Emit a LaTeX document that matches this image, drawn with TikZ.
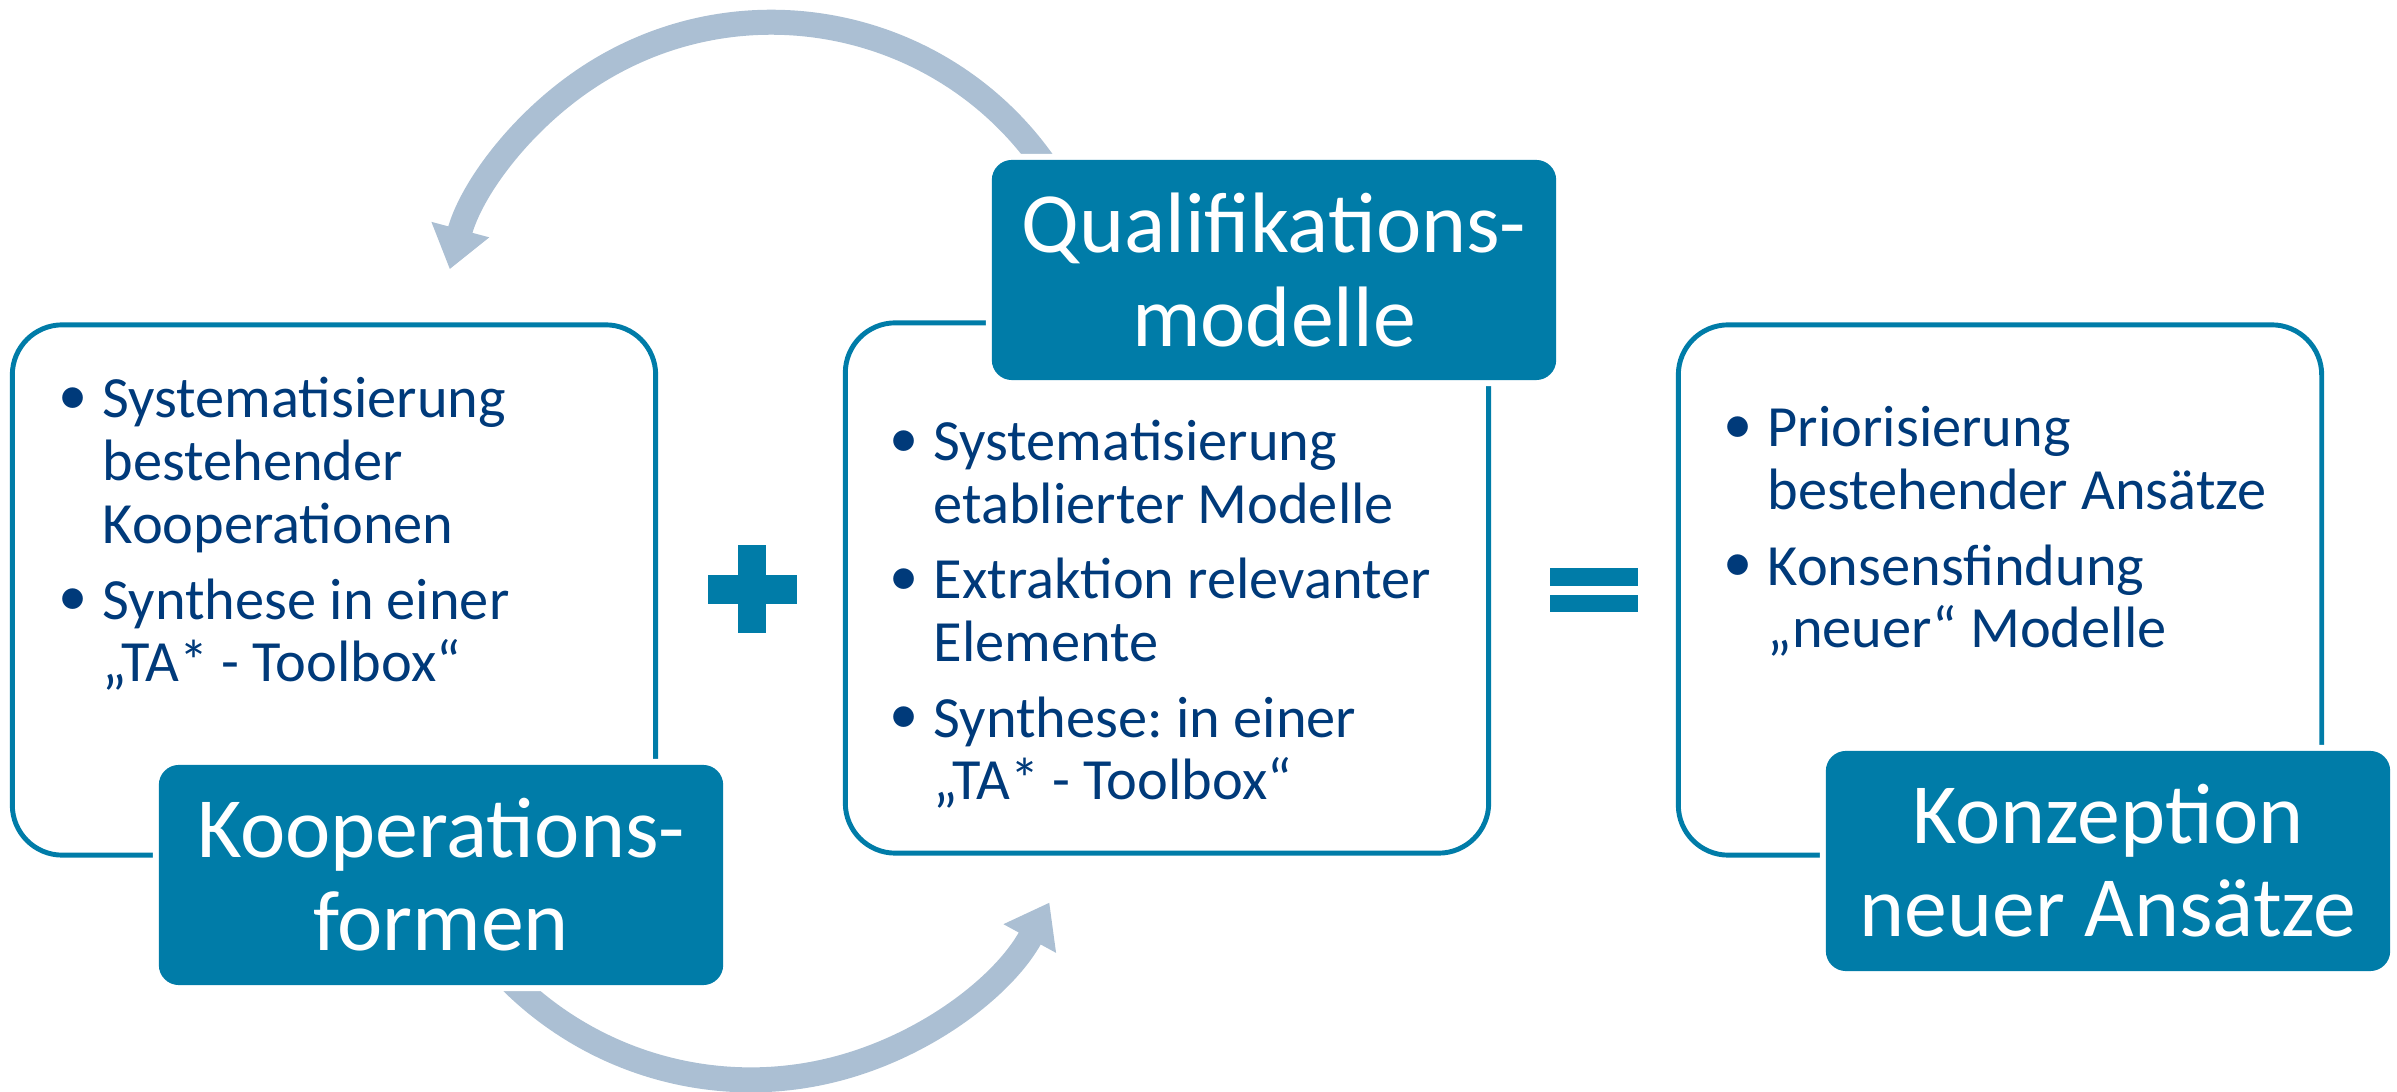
\documentclass[tikz,border=0pt]{standalone}
\usepackage{fontspec}
\setmainfont{Carlito}
\usepackage{tikz}
\usetikzlibrary{arrows.meta}
\definecolor{qteal}{RGB}{0,124,168}
\definecolor{qnavy}{RGB}{0,58,122}
\definecolor{qarrow}{RGB}{171,191,211}
\tikzset{
    panel/.style={draw=qteal,line width=1.4pt,rounded corners=0.5cm,minimum width=6.43cm,minimum height=5.3cm,inner sep=0pt},
    headbox/.style={fill=qteal,text=white,rounded corners=0.2cm,minimum width=5.64cm,minimum height=2.2cm,inner sep=0pt,align=center,font=\fontsize{24.4}{26.5}\selectfont,preaction={draw=white,line width=0.12cm}},
    bullets/.style={text=qnavy,align=left,anchor=base west,inner sep=0pt,font=\fontsize{16.6}{17.9}\selectfont},
    backarrow/.style={draw=qarrow,line width=0.25cm,-{Triangle[width=0.57cm,length=0.41cm]}},
    opsign/.style={fill=qteal},
}
\newcommand{\bul}{\makebox[0.44cm][l]{\raisebox{0.06em}{•}}}
\newcommand{\ind}{\hspace*{0.44cm}}
\frenchspacing

\begin{document}
\begin{tikzpicture}[x=0.01cm,y=0.01cm]
		\useasboundingbox (0,0) rectangle (2397,-1092);

		\node[panel] (koopPanel) at (334,-590) {};
		\node[panel] (qualPanel) at (1167,-588) {};
		\node[panel] (konzPanel) at (2000,-590) {};

		\coordinate (qualTail) at (1051,-174);
		\coordinate (koopTail) at (506,-976);
		\draw[backarrow] (qualTail) arc[start angle=33,end angle=165,radius=3.33cm];
		\draw[backarrow] (koopTail) arc[start angle=224,end angle=331.4,radius=3.4cm];

		\node[headbox] (koop) at (441,-875) {Kooperations-\\formen};
		\node[headbox] (qual) at (1274,-270) {Qualifikations-\\modelle};
		\node[headbox] (konz) at (2108,-861) {Konzeption\\neuer Ansätze};

		\node[bullets] (koopText) at (58,-682) {\bul Systematisierung\\\ind bestehender\\\ind Kooperationen\\[3.5pt]\bul Synthese in einer\\\ind „TA* - Toolbox“};
		\node[bullets] (qualText) at (889,-800) {\bul Systematisierung\\\ind etablierter Modelle\\[3.5pt]\bul Extraktion relevanter\\\ind Elemente\\[3.5pt]\bul Synthese: in einer\\\ind „TA* - Toolbox“};
		\node[bullets] (konzText) at (1723,-648) {\bul Priorisierung\\\ind bestehender Ansätze\\[3.5pt]\bul Konsensfindung\\\ind „neuer“ Modelle};

		\fill[opsign] (708,-575) rectangle (797,-604);
		\fill[opsign] (738,-545) rectangle (766,-633);
		\fill[opsign] (1550,-568) rectangle (1638,-586);
		\fill[opsign] (1550,-595) rectangle (1638,-612);
	\end{tikzpicture}
\end{document}
